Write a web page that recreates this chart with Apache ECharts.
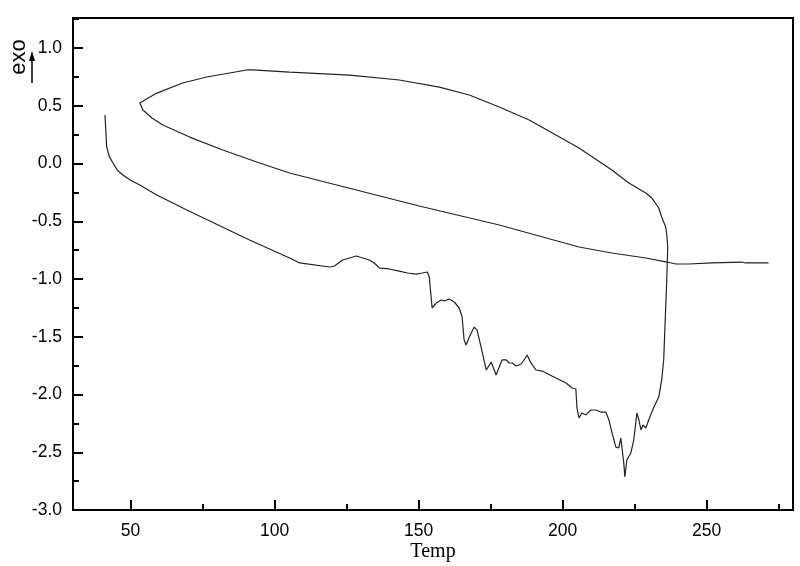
<!DOCTYPE html>
<html>
<head>
<meta charset="utf-8">
<script src="https://cdn.jsdelivr.net/npm/echarts@6/dist/echarts.min.js"></script>
<style>html,body{margin:0;padding:0;background:#fff;}#c{width:800px;height:566px;}</style>
</head>
<body>
<div id="c"></div>
<script>
// Temperature values (x) and heat-flow values (y), in drawing order
const temp = [
41.1,41.3,41.7,42.6,43.9,45.5,47.3,50.0,53.2,59.1,69.5,91.3,105.2,108.7,119.1,120.8,123.6,128.4,132.9,134.6,136.4,139.8,143.3,
146.1,149.2,151.3,153.0,153.7,154.7,156.1,157.9,158.9,160.6,162.4,164.1,165.1,165.8,166.5,167.6,169.3,170.3,171.7,173.5,
175.2,175.5,176.9,178.0,179.0,180.4,181.4,182.5,183.8,185.6,186.6,187.7,189.0,190.8,192.9,196.3,201.2,203.3,204.6,205.0,
205.7,206.7,208.1,209.8,211.6,213.3,215.0,216.1,217.1,218.5,219.5,220.2,220.6,221.3,221.6,222.3,223.7,224.7,225.8,226.5,
227.2,227.9,228.9,229.9,231.7,233.4,234.4,235.1,235.5,236.2,236.5,236.2,235.8,234.4,233.4,231.0,228.9,223.0,217.1,205.7,
188.4,178.0,167.6,157.2,143.3,126.0,105.2,92.4,90.3,84.4,76.4,68.1,59.1,53.2,
54.3,57.4,61.2,70.5,82.0,93.8,105.2,150.2,178.0,205.7,217.1,228.9,236.2,239.3,243.8,251.8,262.2,263.6,267.0,271.5
];
const exo = [
0.42,0.33,0.145,0.06,0.004,-0.06,-0.10,-0.145,-0.186,-0.273,-0.403,-0.662,-0.818,-0.861,-0.896,-0.887,-0.835,-0.801,-0.835,-0.861,-0.905,-0.913,-0.931,
-0.948,-0.957,-0.948,-0.939,-0.983,-1.251,-1.208,-1.182,-1.190,-1.173,-1.199,-1.251,-1.329,-1.528,-1.571,-1.502,-1.416,-1.442,-1.589,-1.788,
-1.719,-1.727,-1.831,-1.762,-1.701,-1.701,-1.727,-1.727,-1.753,-1.736,-1.701,-1.658,-1.727,-1.788,-1.797,-1.840,-1.900,-1.944,-1.952,-2.117,
-2.203,-2.160,-2.177,-2.134,-2.134,-2.152,-2.152,-2.221,-2.325,-2.455,-2.463,-2.377,-2.455,-2.610,-2.714,-2.567,-2.506,-2.394,-2.160,-2.221,
-2.307,-2.264,-2.290,-2.221,-2.108,-2.022,-1.874,-1.701,-1.442,-0.983,-0.723,-0.619,-0.550,-0.463,-0.385,-0.299,-0.255,-0.169,-0.056,0.134,
0.377,0.489,0.593,0.662,0.723,0.766,0.792,0.810,0.810,0.784,0.749,0.697,0.610,0.524,
0.463,0.394,0.333,0.229,0.117,0.013,-0.082,-0.368,-0.532,-0.723,-0.775,-0.818,-0.853,-0.870,-0.870,-0.861,-0.853,-0.861,-0.861,-0.861
];
const xTicks = [50, 100, 150, 200, 250];
const xMinorTicks = [75, 125, 175, 225, 275];
const yTicks = [-3.0, -2.5, -2.0, -1.5, -1.0, -0.5, 0.0, 0.5, 1.0];
const xTitle = 'Temp';
const yTitle = 'exo';

const chart = echarts.init(document.getElementById('c'));
const pts = temp.map((t, i) => [t, exo[i]]);
const lab = {color: '#000', fontFamily: 'Liberation Sans, Arial, sans-serif', fontSize: 17.5};
chart.setOption({
  animation: false,
  backgroundColor: '#fff',
  grid: {left: 73, right: 7, top: 18, bottom: 56, containLabel: false, outerBoundsMode: 'none',
         show: true, borderColor: '#000', borderWidth: 2, backgroundColor: 'transparent'},
  xAxis: [{
    type: 'value', min: 30, max: 280,
    name: xTitle, nameLocation: 'middle', nameGap: 32, nameMoveOverlap: false,
    nameTextStyle: {color: '#000', fontFamily: 'Liberation Serif, Times New Roman, serif', fontSize: 20},
    axisLine: {show: true, onZero: false, lineStyle: {color: '#000', width: 2}},
    axisTick: {show: true, inside: true, length: 10, customValues: xTicks, lineStyle: {color: '#000', width: 2}},
    splitLine: {show: false},
    axisLabel: Object.assign({margin: 12, customValues: xTicks, formatter: v => String(v)}, lab)
  }, {
    type: 'value', min: 30, max: 280, position: 'bottom', gridIndex: 0,
    axisLine: {show: false, onZero: false},
    axisTick: {show: true, inside: true, length: 6, customValues: xMinorTicks, lineStyle: {color: '#000', width: 2}},
    splitLine: {show: false},
    axisLabel: {show: false}
  }],
  yAxis: {
    type: 'value', min: -3, max: 1.26, interval: 0.5,
    axisLine: {show: true, onZero: false, lineStyle: {color: '#000', width: 2}},
    axisTick: {show: true, inside: true, length: 10, lineStyle: {color: '#000', width: 2}},
    minorTick: {show: true, splitNumber: 2, length: 6, lineStyle: {color: '#000', width: 2}},
    splitLine: {show: false},
    axisLabel: Object.assign({margin: 11, showMaxLabel: false,
      formatter: v => yTicks.some(t => Math.abs(t - v) < 1e-9) ? v.toFixed(1) : ''}, lab)
  },
  graphic: [
    {type: 'text', x: 18.5, y: 57, rotation: Math.PI / 2,
     style: {text: yTitle, fill: '#000', font: '22px Liberation Sans, Arial, sans-serif', align: 'center', verticalAlign: 'middle'}},
    {type: 'line', shape: {x1: 32, y1: 83, x2: 32, y2: 58}, style: {stroke: '#000', lineWidth: 1.5}},
    {type: 'polygon', shape: {points: [[32, 51], [29, 61], [35, 61]]}, style: {fill: '#000'}}
  ],
  series: [{
    type: 'line', xAxisIndex: 0, data: pts, showSymbol: false, smooth: false,
    lineStyle: {color: '#222', width: 1.2}
  }]
});
</script>
</body>
</html>
